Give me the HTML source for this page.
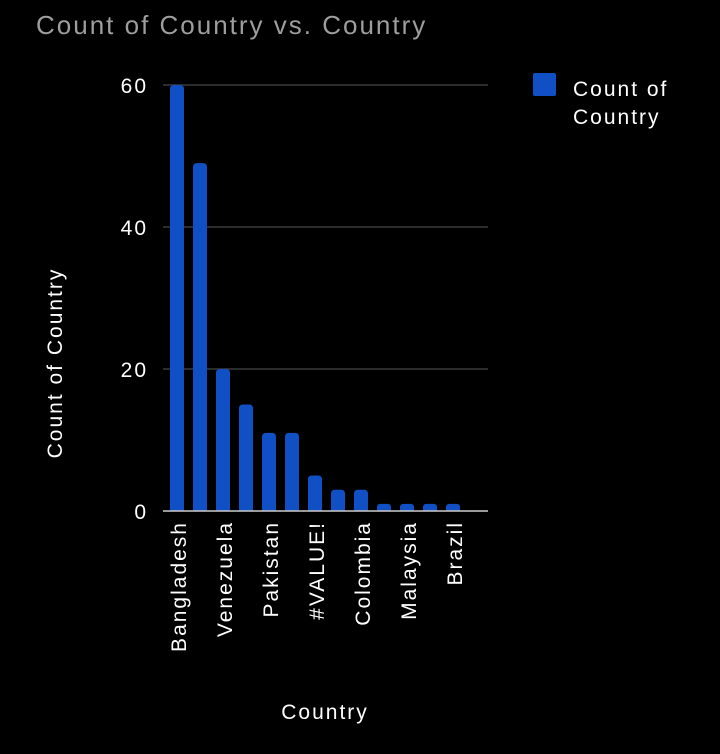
<!DOCTYPE html>
<html><head><meta charset="utf-8"><style>
html,body{margin:0;padding:0;background:#000;}
svg{display:block;font-family:"Liberation Sans",sans-serif;}
</style></head><body>
<svg id="chart" width="720" height="754" viewBox="0 0 720 754">
<rect width="720" height="754" fill="#000"/>
<text x="36" y="34" font-size="26" letter-spacing="2" fill="#9e9e9e">Count of Country vs. Country</text>
<g id="grid"></g>
<g id="bars"></g>
<g id="xlabels"></g>
<line x1="163" y1="511" x2="488" y2="511" stroke="#cccccc" stroke-width="1.5"/>
<text x="0" y="0" transform="translate(62,363) rotate(-90)" text-anchor="middle" font-size="21" letter-spacing="2" fill="#fff">Count of Country</text>
<text x="325" y="719" text-anchor="middle" font-size="21" letter-spacing="2" fill="#fff">Country</text>
<g>
<rect x="533" y="73" width="23" height="23" rx="2" fill="#1150c4"/>
<text x="573" y="96" font-size="21" letter-spacing="2" fill="#fff"><tspan x="573">Count of</tspan><tspan x="573" dy="28">Country</tspan></text>
</g>
</svg>
<script>
const categories=["Bangladesh","","Venezuela","","Pakistan","","#VALUE!","","Colombia","","Malaysia","","Brazil"];
const values=[60,49,20,15,11,11,5,3,3,1,1,1,1];
const yTicks=[0,20,40,60];
const NS="http://www.w3.org/2000/svg";
const y=v=>511-v*(426/60);
const x=i=>177+23*i;
const grid=document.getElementById('grid'),bars=document.getElementById('bars'),xl=document.getElementById('xlabels');
yTicks.forEach(t=>{
 if(t>0){const l=document.createElementNS(NS,'line');
 l.setAttribute('x1',163);l.setAttribute('x2',488);l.setAttribute('y1',y(t));l.setAttribute('y2',y(t));
 l.setAttribute('stroke','#3a3a3a');l.setAttribute('stroke-width','1.5');
 
 
 grid.appendChild(l);}
 const tx=document.createElementNS(NS,'text');
 tx.setAttribute('x',148);tx.setAttribute('y',y(t)+8);tx.setAttribute('text-anchor','end');
 tx.setAttribute('font-size','21');tx.setAttribute('letter-spacing','2');tx.setAttribute('fill','#fff');tx.textContent=t;
 
 
 grid.appendChild(tx);
});
values.forEach((v,i)=>{
 const h=511-y(v);const bx=x(i)-7;const r=Math.min(4,h/2);
 const p=document.createElementNS(NS,'path');
 p.setAttribute('d',`M${bx},511 V${y(v)+r} Q${bx},${y(v)} ${bx+r},${y(v)} H${bx+14-r} Q${bx+14},${y(v)} ${bx+14},${y(v)+r} V511 Z`);
 p.setAttribute('fill','#1150c4');
 
 
 bars.appendChild(p);
 if(categories[i]){
  const t=document.createElementNS(NS,'text');
  t.setAttribute('transform',`translate(${x(i)+9},521) rotate(-90)`);
  t.setAttribute('text-anchor','end');t.setAttribute('font-size','21');t.setAttribute('letter-spacing','2');t.setAttribute('fill','#fff');
  t.textContent=categories[i];
  
  
  xl.appendChild(t);
 }
});
</script>
</body></html>
